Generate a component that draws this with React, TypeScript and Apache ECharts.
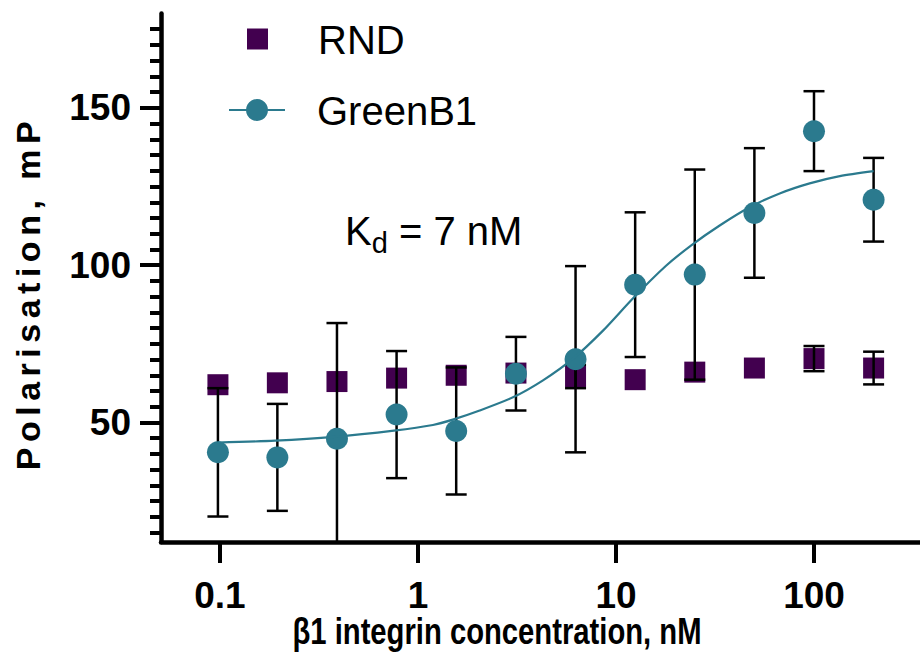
import React, { useEffect, useRef } from 'react';
import * as echarts from 'echarts';

// ---- data ----
const concentrations = [0.0977, 0.195, 0.39, 0.78, 1.56, 3.125, 6.25, 12.5, 25, 50, 100, 200];
const rndMean = [62.0, 62.6, 63.0, 64.1, 65.0, 65.7, 64.6, 63.6, 66.0, 67.3, 70.3, 67.3];
const rndSd = [0, 0, 0, 0, 0, 0, 3.7, 0, 0, 0, 4.0, 5.2];
const greenMean = [40.5, 38.9, 44.8, 52.5, 47.3, 65.5, 70.1, 93.8, 97.0, 116.6, 142.6, 120.8];
const greenSd = [20.4, 17.0, 36.8, 20.2, 20.2, 11.7, 29.6, 23.0, 33.4, 20.6, 12.7, 13.3];
const fitConc = [0.0977, 0.19, 0.377, 0.756, 1.19, 1.5, 2.05, 3.02, 4.28, 6.07, 8.6, 12.2, 17.9, 24.0, 33.4, 47.3, 67.1, 95.1, 135, 200];
const fitValue = [43.6, 44.2, 45.4, 47.4, 49.2, 50.9, 53.8, 58.0, 63.4, 70.3, 79.2, 89.5, 99.8, 106.3, 112.6, 118.4, 122.8, 126.0, 128.3, 129.9];
const xTickLabels = [0.1, 1, 10, 100];
const xRange = [0.0504, 343];
const yMajorTicks = [50, 100, 150];
const yMinorTicks = [15, 20, 25, 30, 35, 40, 45, 55, 60, 65, 70, 75, 80, 85, 90, 95, 105, 110, 115, 120, 125, 130, 135, 140, 145, 155, 160, 165, 170, 175];
const yRange = [12, 180];
const seriesNames = ['RND', 'GreenB1'];
const yTitle = 'Polarisation, mP';
const xTitle = 'β1 integrin concentration, nM';

const PURPLE = '#42004f';
const TEAL = '#2b7a8e';
const FONT = '"Liberation Sans", Arial, sans-serif';

const lg = (v: number) => Math.log10(v);

function errorBars(means: number[], sds: number[]) {
  const out: number[][] = [];
  concentrations.forEach((c, i) => {
    if (sds[i] > 0) out.push([lg(c), means[i] - sds[i], means[i] + sds[i]]);
  });
  return out;
}

function renderErr(params: any, api: any) {
  const x = api.value(0);
  const lo = api.value(1);
  const hi = api.value(2);
  const clipped = lo < yRange[0];
  const pLo = api.coord([x, clipped ? yRange[0] : lo]);
  const pHi = api.coord([x, hi]);
  const half = 10.5;
  const style = { stroke: '#000', lineWidth: 2.5 };
  const children: any[] = [
    { type: 'line', shape: { x1: pLo[0], y1: pLo[1], x2: pHi[0], y2: pHi[1] }, style },
    { type: 'line', shape: { x1: pHi[0] - half, y1: pHi[1], x2: pHi[0] + half, y2: pHi[1] }, style },
  ];
  if (!clipped) {
    children.push({ type: 'line', shape: { x1: pLo[0] - half, y1: pLo[1], x2: pLo[0] + half, y2: pLo[1] }, style });
  }
  return { type: 'group', children };
}

export default function App() {
  const ref = useRef<HTMLDivElement>(null);

  useEffect(() => {
    document.body.style.margin = '0';
    if (!ref.current) return;
    const chart = echarts.init(ref.current, null, { renderer: 'svg' });

    const axisLine = { show: true, onZero: false, lineStyle: { color: '#000', width: 4.5 } };
    const tickStyle = { color: '#000', width: 4 };
    const labelStyle = { color: '#000', fontSize: 37, fontWeight: 'bold' as const, fontFamily: FONT };

    chart.setOption({
      animation: false,
      backgroundColor: '#fff',
      grid: { left: 161, right: 0, top: 13.5, bottom: 110, containLabel: false, outerBoundsMode: 'none' },
      xAxis: {
        type: 'value',
        min: lg(xRange[0]),
        max: lg(xRange[1]),
        axisLine,
        splitLine: { show: false },
        axisTick: { show: true, length: 21, lineStyle: tickStyle, customValues: xTickLabels.map(lg) },
        axisLabel: {
          ...labelStyle,
          margin: 35,
          customValues: xTickLabels.map(lg),
          formatter: (v: number) => String(Number(Math.pow(10, v).toPrecision(2))),
        },
      },
      yAxis: [
        {
          type: 'value',
          min: yRange[0],
          max: yRange[1],
          position: 'left',
          axisLine,
          splitLine: { show: false },
          axisTick: { show: true, length: 11, lineStyle: tickStyle, customValues: yMinorTicks },
          axisLabel: { show: false },
        },
        {
          type: 'value',
          min: yRange[0],
          max: yRange[1],
          position: 'left',
          axisLine: { show: false, onZero: false },
          splitLine: { show: false },
          axisTick: { show: true, length: 21, lineStyle: tickStyle, customValues: yMajorTicks },
          axisLabel: { ...labelStyle, margin: 30, customValues: yMajorTicks },
        },
      ],
      series: [
        {
          name: seriesNames[0],
          type: 'scatter',
          symbol: 'rect',
          symbolSize: 21,
          itemStyle: { color: PURPLE, opacity: 1 },
          data: concentrations.map((c, i) => [lg(c), rndMean[i]]),
          z: 2,
        },
        {
          type: 'custom',
          renderItem: renderErr,
          data: errorBars(rndMean, rndSd),
          z: 3,
        },
        {
          type: 'custom',
          renderItem: renderErr,
          data: errorBars(greenMean, greenSd),
          z: 3,
        },
        {
          name: seriesNames[1],
          type: 'scatter',
          symbol: 'circle',
          symbolSize: 22,
          itemStyle: { color: TEAL, opacity: 1 },
          data: concentrations.map((c, i) => [lg(c), greenMean[i]]),
          z: 4,
        },
        {
          type: 'line',
          smooth: 0.25,
          showSymbol: false,
          symbol: 'none',
          lineStyle: { color: TEAL, width: 2.2 },
          data: fitConc.map((c, i) => [lg(c), fitValue[i]]),
          z: 5,
        },
      ],
      graphic: [
        { type: 'rect', shape: { x: 247, y: 28.5, width: 21, height: 21 }, style: { fill: PURPLE } },
        { type: 'line', shape: { x1: 229, y1: 110, x2: 285, y2: 110 }, style: { stroke: TEAL, lineWidth: 2.2 } },
        { type: 'circle', shape: { cx: 257, cy: 110, r: 11 }, style: { fill: TEAL } },
        {
          type: 'text', x: 318, y: 39.5,
          style: { text: seriesNames[0], font: `40px ${FONT}`, fill: '#000', align: 'left', verticalAlign: 'middle' },
        },
        {
          type: 'text', x: 317, y: 110.5,
          style: { text: seriesNames[1], font: `40px ${FONT}`, fill: '#000', align: 'left', verticalAlign: 'middle' },
        },
        {
          type: 'text', x: 345, y: 211,
          style: {
            text: '{a|K}{b|d}{a| = 7 nM}',
            align: 'left',
            verticalAlign: 'top',
            fill: '#000',
            rich: {
              a: { fontSize: 40, lineHeight: 40, fontFamily: FONT, fill: '#000', verticalAlign: 'top' },
              b: { fontSize: 29, lineHeight: 29, fontFamily: FONT, fill: '#000', verticalAlign: 'top', padding: [17, 0, 0, 0] },
            },
          },
        },
        {
          type: 'text', x: 27.5, y: 293, rotation: Math.PI / 2,
          style: { text: yTitle, font: `bold 34px ${FONT}`, fill: '#000', align: 'center', verticalAlign: 'middle' },
        },
        {
          type: 'text', x: 497, y: 631, scaleX: 0.79,
          style: { text: xTitle, font: `bold 37px ${FONT}`, fill: '#000', align: 'center', verticalAlign: 'middle' },
        },
      ],
    });

    const spaceTitle = () => {
      const svg = ref.current?.querySelector('svg');
      if (!svg) return;
      svg.querySelectorAll('text').forEach((t) => {
        if (t.textContent === yTitle) t.setAttribute('letter-spacing', '5.5');
      });
    };
    spaceTitle();
    chart.on('finished', spaceTitle);

    return () => {
      chart.dispose();
    };
  }, []);

  return <div ref={ref} style={{ width: 920, height: 652, display: 'block' }} />;
}
